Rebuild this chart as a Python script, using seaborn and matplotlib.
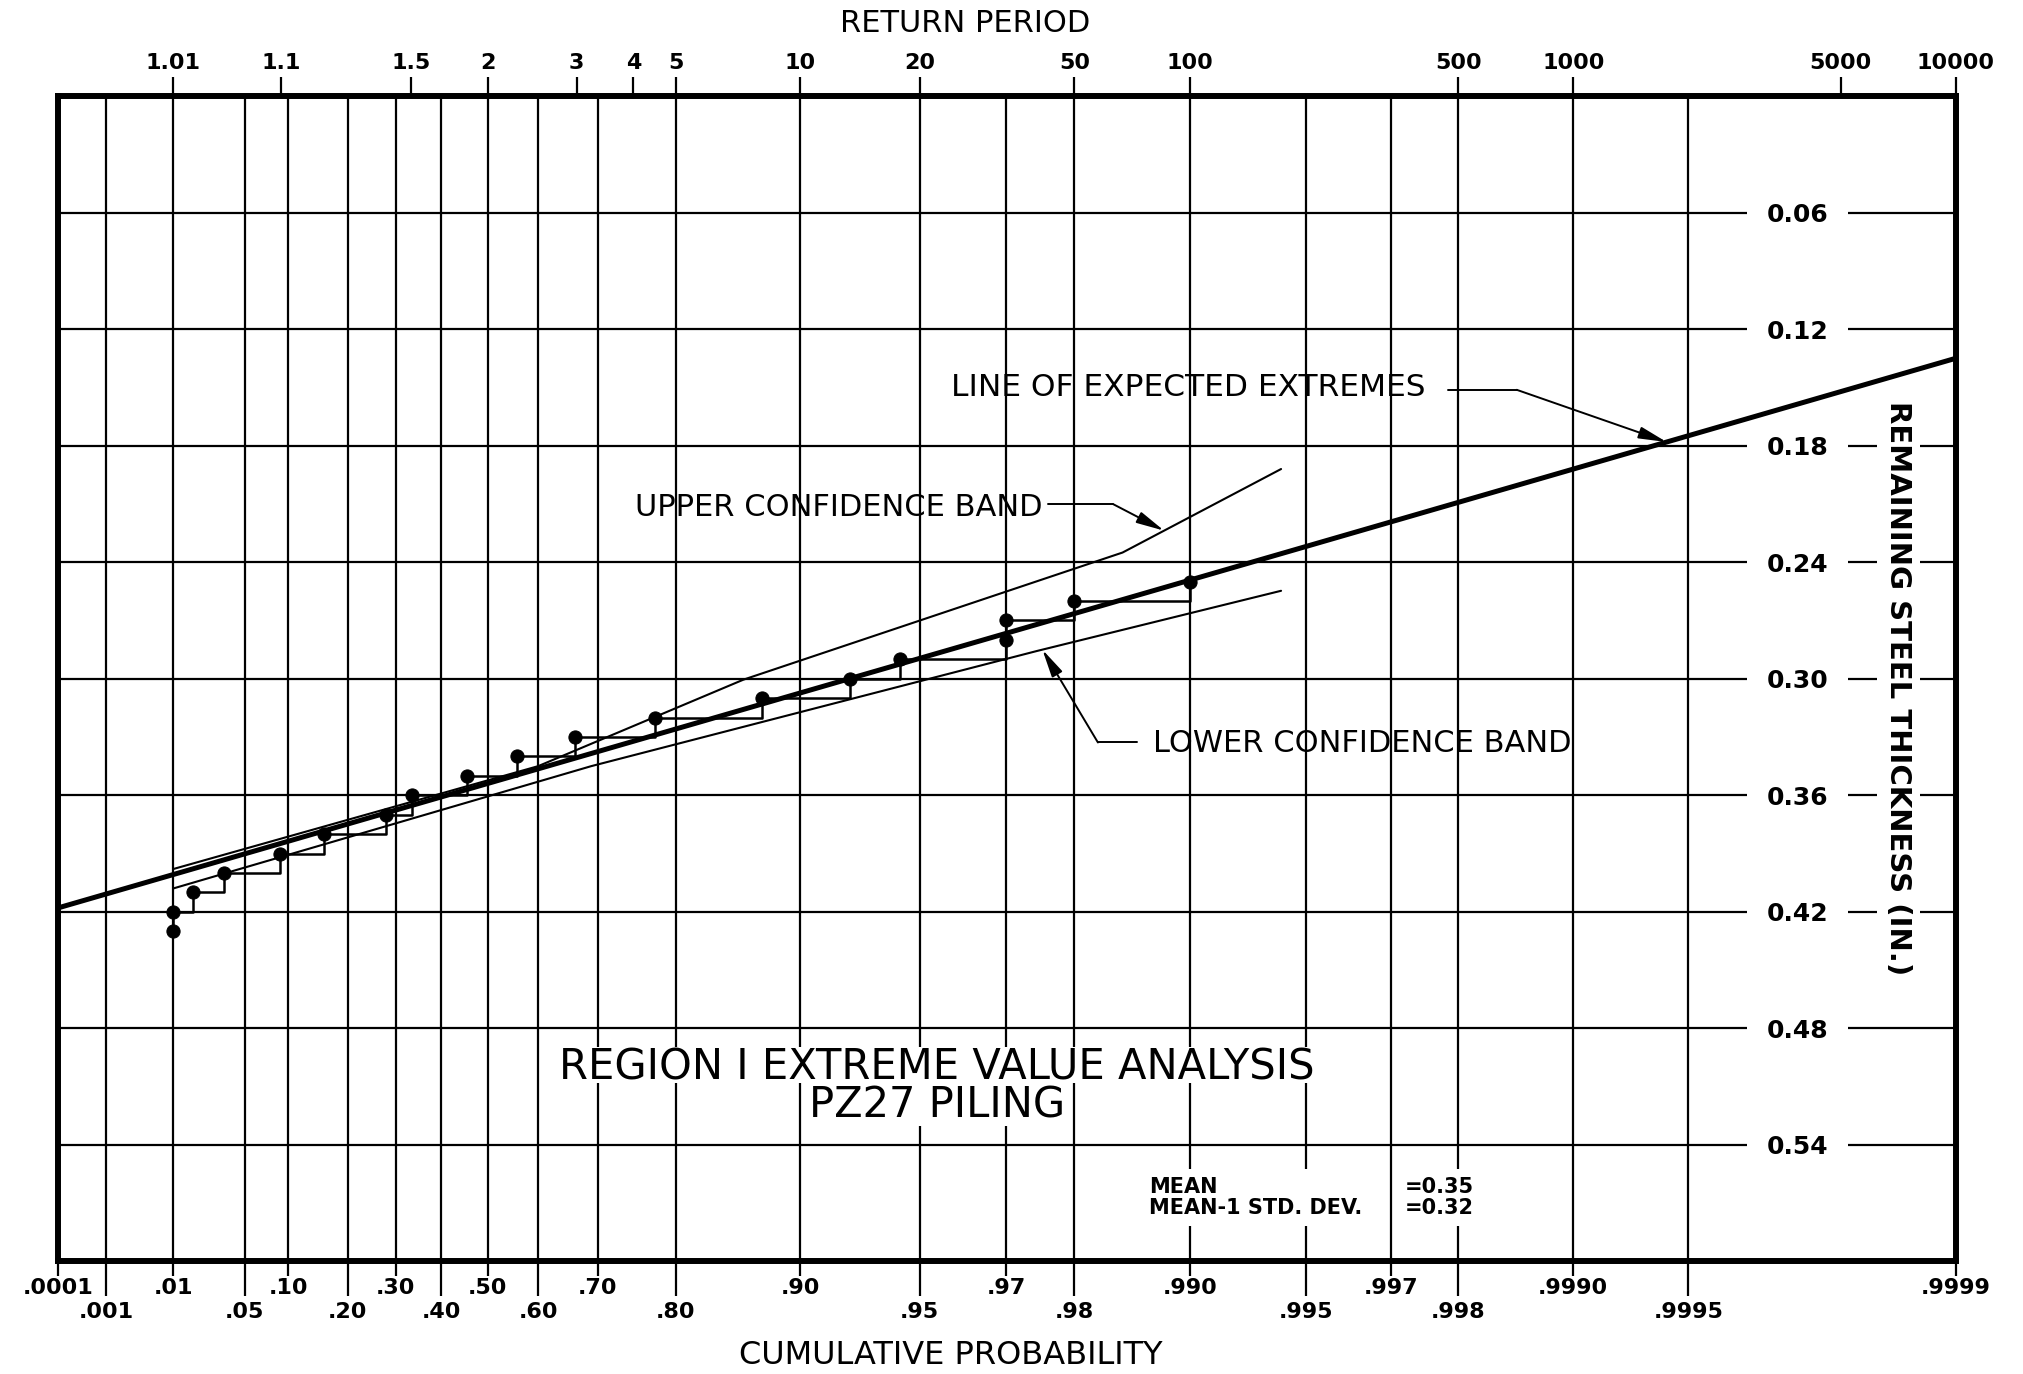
import numpy as np
import matplotlib
matplotlib.use("Agg")
import matplotlib.pyplot as plt
from matplotlib.patches import Rectangle
import seaborn as sns

# ---- values ----
# plotted points: cumulative probability vs remaining thickness (in.)
point_prob = [0.01, 0.01, 0.0169, 0.034, 0.0888, 0.157, 0.278, 0.335, 0.457, 0.559,
              0.665, 0.777, 0.876, 0.925, 0.944, 0.97, 0.97, 0.98, 0.99]
point_thk = [0.43, 0.42, 0.41, 0.40, 0.39, 0.38, 0.37, 0.36, 0.35, 0.34,
             0.33, 0.32, 0.31, 0.30, 0.29, 0.28, 0.27, 0.26, 0.25]

# line of expected extremes (straight on gumbel paper)
expected_prob = [0.0001, 0.9999]
expected_thk = [0.418, 0.135]

# confidence bands
upper_prob = [0.01, 0.60, 0.862, 0.985, 0.9942]
upper_thk = [0.398, 0.345, 0.3005, 0.235, 0.192]
lower_prob = [0.01, 0.690, 0.975, 0.9942]
lower_thk = [0.408, 0.345, 0.2857, 0.2547]

# bottom axis, two staggered rows of labels
prob_ticks_upper = [0.0001, 0.01, 0.10, 0.30, 0.50, 0.70, 0.90, 0.97, 0.990, 0.997, 0.9990, 0.9999]
prob_labels_upper = [".0001", ".01", ".10", ".30", ".50", ".70", ".90", ".97", ".990", ".997", ".9990", ".9999"]
prob_ticks_lower = [0.001, 0.05, 0.20, 0.40, 0.60, 0.80, 0.95, 0.98, 0.995, 0.998, 0.9995]
prob_labels_lower = [".001", ".05", ".20", ".40", ".60", ".80", ".95", ".98", ".995", ".998", ".9995"]

# top axis
return_periods = [1.01, 1.1, 1.5, 2, 3, 4, 5, 10, 20, 50, 100, 500, 1000, 5000, 10000]
return_labels = ["1.01", "1.1", "1.5", "2", "3", "4", "5", "10", "20", "50", "100",
                 "500", "1000", "5000", "10000"]

thk_ticks = [0.06, 0.12, 0.18, 0.24, 0.30, 0.36, 0.42, 0.48, 0.54]
thk_labels = ["0.06", "0.12", "0.18", "0.24", "0.30", "0.36", "0.42", "0.48", "0.54"]

mean_thk = 0.35
mean_minus_sd = 0.32


def gumbel(p):
    p = np.clip(np.asarray(p, dtype=float), 1e-12, 1 - 1e-12)
    return -np.log(-np.log(p))


def gumbel_inv(y):
    y = np.clip(np.asarray(y, dtype=float), -30, 30)
    return np.exp(-np.exp(-y))


def on_curve(p, probs, thks):
    return float(np.interp(gumbel(p), gumbel(probs), thks))


sns.set_theme(style="white", rc={
    "text.color": "black", "axes.edgecolor": "black", "axes.labelcolor": "black",
    "xtick.color": "black", "ytick.color": "black",
})
plt.rcParams["font.family"] = ["DejaVu Sans"]

fig = plt.figure(figsize=(20.24, 13.74), dpi=100)
ax = fig.add_axes([0.0287, 0.082, 0.9375, 0.848])

sns.lineplot(x=expected_prob, y=expected_thk, ax=ax, color="black", lw=3.6,
             estimator=None, sort=False)
sns.lineplot(x=upper_prob, y=upper_thk, ax=ax, color="black", lw=1.5,
             estimator=None, sort=False)
sns.lineplot(x=lower_prob, y=lower_thk, ax=ax, color="black", lw=1.5,
             estimator=None, sort=False)
sns.lineplot(x=point_prob, y=point_thk, ax=ax, color="black", lw=1.8,
             estimator=None, sort=False, drawstyle="steps-post")
sns.scatterplot(x=point_prob, y=point_thk, ax=ax, color="black", edgecolor="black",
                s=90, zorder=4)

ax.set_xscale("function", functions=(gumbel, gumbel_inv))
ax.set_xlim(0.0001, 0.9999)
ax.set_ylim(0.60, 0.0)
ax.set_xlabel("")
ax.set_ylabel("")

# bottom ticks: long ones carry the lower row of labels
ax.set_xticks(prob_ticks_lower, prob_labels_lower)
ax.set_xticks(prob_ticks_upper, prob_labels_upper, minor=True)
ax.tick_params(axis="x", which="major", bottom=True, direction="out", length=25,
               width=1.6, pad=4.5, labelsize=16)
ax.tick_params(axis="x", which="minor", bottom=True, direction="out", length=11,
               width=1.6, pad=1, labelsize=16)
for lbl in ax.get_xticklabels(which="both"):
    lbl.set_fontweight("bold")

ax.grid(True, which="both", axis="x", color="black", lw=1.6)
ax.grid(True, which="major", axis="y", color="black", lw=1.6)

# thickness labels sit inside the frame, breaking the grid lines
ax.yaxis.tick_right()
ax.set_yticks(thk_ticks, thk_labels)
ax.tick_params(axis="y", which="major", right=True, left=False, length=0, pad=-136,
               labelsize=18)
for lbl in ax.get_yticklabels():
    lbl.set_fontweight("bold")
    lbl.set_bbox(dict(boxstyle="square,pad=0.8", fc="white", ec="none"))

for s in ax.spines.values():
    s.set_linewidth(4.3)
    s.set_color("black")

# return period axis on top
ax_top = ax.twiny()
ax_top.set_xscale("function", functions=(gumbel, gumbel_inv))
ax_top.set_xlim(0.0001, 0.9999)
ax_top.set_xticks([1 - 1 / t for t in return_periods], return_labels)
ax_top.tick_params(axis="x", top=True, bottom=False, direction="out", length=14,
                   width=1.6, pad=2.5, labelsize=16)
for lbl in ax_top.get_xticklabels():
    lbl.set_fontweight("bold")
ax_top.grid(False)
for s in ax_top.spines.values():
    s.set_visible(False)

fig.text(0.4768, 0.983, "RETURN PERIOD", ha="center", va="center", fontsize=22)
fig.text(0.470, 0.0138, "CUMULATIVE PROBABILITY", ha="center", va="center", fontsize=23)

ax.text(0.9698, 0.305, "REMAINING STEEL THICKNESS (IN.)", transform=ax.get_yaxis_transform(),
        rotation=-90, ha="center", va="center", fontsize=21, fontweight="bold",
        bbox=dict(boxstyle="square,pad=0.25", fc="white", ec="none"))

# labelled leaders
arrow = dict(arrowstyle="-|>,head_length=0.85,head_width=0.18", color="black", lw=1.4,
             shrinkA=0, shrinkB=0, mutation_scale=20)

ax.text(0.4707, 0.7496, "LINE OF EXPECTED EXTREMES", transform=ax.transAxes,
        ha="left", va="center", fontsize=22.5)
ax.plot([0.7327, 0.7687], [0.748, 0.748], transform=ax.transAxes, color="black", lw=1.4)
ax.annotate("", xy=(0.99943, on_curve(0.99943, expected_prob, expected_thk)),
            xytext=(0.7687, 0.748), textcoords="axes fraction", arrowprops=arrow)

ax.text(0.304, 0.6468, "UPPER CONFIDENCE BAND", transform=ax.transAxes,
        ha="left", va="center", fontsize=22)
ax.plot([0.5218, 0.5561], [0.6498, 0.6498], transform=ax.transAxes, color="black", lw=1.4)
ax.annotate("", xy=(0.9883, on_curve(0.9883, upper_prob, upper_thk)),
            xytext=(0.5561, 0.6498), textcoords="axes fraction", arrowprops=arrow)

ax.text(0.5769, 0.4441, "LOWER CONFIDENCE BAND", transform=ax.transAxes,
        ha="left", va="center", fontsize=22)
ax.plot([0.5684, 0.548], [0.4453, 0.4453], transform=ax.transAxes, color="black", lw=1.4)
ax.annotate("", xy=(0.9758, on_curve(0.9758, lower_prob, lower_thk)),
            xytext=(0.548, 0.4453), textcoords="axes fraction", arrowprops=arrow)

# chart title inside the grid; white patches behind each line break the grid
title = ax.text(0.463, 0.150, "REGION I EXTREME VALUE ANALYSIS\nPZ27 PILING",
                transform=ax.transAxes, ha="center", va="center", multialignment="center",
                fontsize=30, linespacing=0.86, zorder=5)
fig.canvas.draw()
renderer = fig.canvas.get_renderer()
bb = title.get_window_extent(renderer)
split = bb.y1 - 0.45 * bb.height
cx = 0.5 * (bb.x0 + bb.x1)
to_axes = ax.transAxes.inverted()
for k, line in enumerate(title.get_text().split("\n")):
    w, _, _ = renderer.get_text_width_height_descent(line, title.get_fontproperties(), ismath=False)
    y0, y1 = (split, bb.y1) if k == 0 else (bb.y0, split)
    (ax0, ay0), (ax1, ay1) = to_axes.transform([(cx - w / 2 - 6, y0), (cx + w / 2 + 6, y1)])
    ax.add_patch(Rectangle((ax0, ay0), ax1 - ax0, ay1 - ay0, transform=ax.transAxes,
                           fc="white", ec="none", zorder=4.9))

ax.text(0.5748, 0.055, "MEAN\nMEAN-1 STD. DEV.", transform=ax.transAxes,
        ha="left", va="center", fontsize=15, fontweight="bold", linespacing=1.05,
        bbox=dict(boxstyle="square,pad=0.4", fc="white", ec="none"))
ax.text(0.7463, 0.055, f"={mean_thk:.2f}\n={mean_minus_sd:.2f}", transform=ax.transAxes,
        ha="right", va="center", fontsize=15, fontweight="bold", linespacing=1.05,
        bbox=dict(boxstyle="square,pad=0.4", fc="white", ec="none"))

fig.savefig("out.png", dpi=100)
